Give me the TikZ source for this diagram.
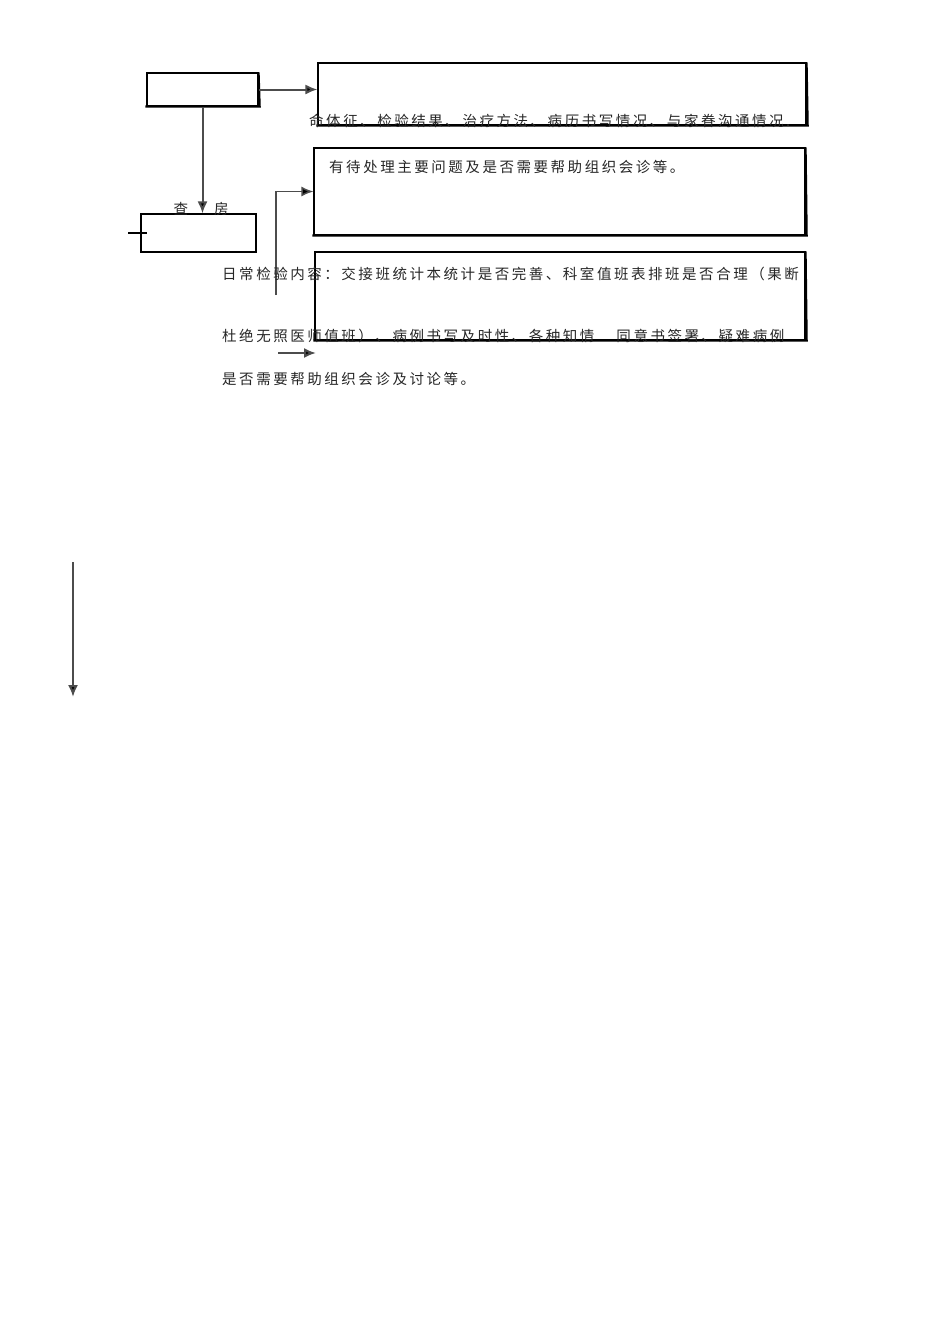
\documentclass[tikz,border=0pt]{standalone}
\usepackage{fontspec}
\newfontfamily\cjk[LetterSpace=17.5]{Noto Sans CJK SC}
\usetikzlibrary{calc,arrows.meta}
\tikzset{
	frame/.style={draw=black, line width=1.1pt, inner sep=0pt},
	link/.style={draw=black!70, line width=2pt, -{Latex[length=12pt, width=10pt, fill=black]}},
	say/.style={font=\cjk\fontsize{14.5}{15}\selectfont, text=black!85, inner sep=0pt, anchor=west},
}
\def\boxedge(#1){\draw[line width=2.2pt] ([xshift=-1pt]#1.south west) -- ([xshift=1.1pt]#1.south east) -- (#1.north east);}

\begin{document}
\begin{tikzpicture}[x=1pt, y=-1pt]
			%%%%% START %%%%%
			\useasboundingbox (0, 0) rectangle (950, 1344);
			
			\node[frame, minimum width=111, minimum height=33] (head) at (202.5, 89.5) {};
			\boxedge(head)
			\node[frame, minimum width=488, minimum height=62] (note) at (562, 94) {};
			\boxedge(note)
			\node[frame, minimum width=115, minimum height=38] (ward) at (198.5, 233) {};
			\node[frame, minimum width=491, minimum height=87] (issue) at (559.5, 191.5) {};
			\boxedge(issue)
			\node[frame, minimum width=490, minimum height=88] (daily) at (560, 296) {};
			\boxedge(daily)
			
			\draw[link] (head.east) -- (head.east -| note.west);
			\draw[link] (head.south) -- (head.south |- ward.north);
			
			\coordinate (tickA) at (128, 233);
			\coordinate (tickB) at (147, 233);
			\draw[line width=1.1pt] (tickA) -- (tickB);
			
			\coordinate (bend) at (276, 295);
			\draw[link, line width=1.5pt] (bend) |- (issue.west);
			
			\coordinate (stubA) at (278, 353);
			\coordinate (stubB) at (316, 353);
			\draw[link] (stubA) -- (stubB);
			
			\coordinate (dropA) at (73, 562);
			\coordinate (dropB) at (73, 697);
			\draw[link] (dropA) -- (dropB);
			
			\node[say, anchor=center] (wardname) at (201, 209) {查\hspace{26pt}房};
			\node[say] (notetext) at (309, 121) {命体征、检验结果、治疗方法、病历书写情况、与家眷沟通情况.};
			\node[say] (issuetext) at (329, 167) {有待处理主要问题及是否需要帮助组织会诊等。};
			\node[say] (dailyA) at (222, 274) {日常检验内容：交接班统计本统计是否完善、科室值班表排班是否合理（果断};
			\node[say] (dailyB) at (222, 336) {杜绝无照医师值班）、病例书写及时性、各种知情\hspace{22pt}同意书签署、疑难病例};
			\node[say] (dailyC) at (222, 379) {是否需要帮助组织会诊及讨论等。};
			
			%%%%% END %%%%%
\end{tikzpicture}
\end{document}
